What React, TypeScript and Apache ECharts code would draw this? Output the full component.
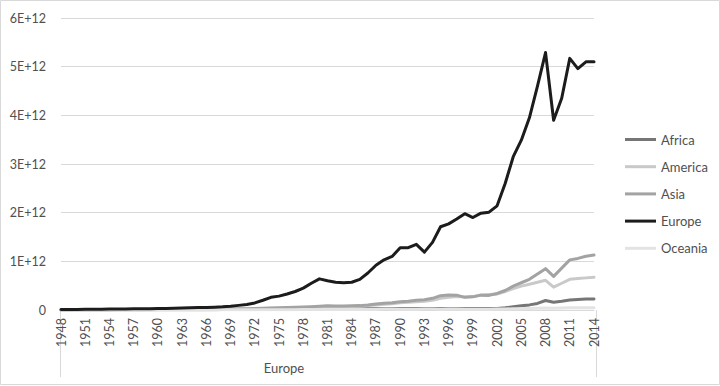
import React, { useEffect, useRef } from "react";
import * as echarts from "echarts";

const years: string[] = [];
for (let y = 1948; y <= 2014; y++) years.push(String(y));

// values in units of 1E+12
const africa = [
  0.001, 0.001, 0.001, 0.002, 0.002, 0.002, 0.002, 0.003, 0.003, 0.003,
  0.003, 0.004, 0.004, 0.004, 0.005, 0.005, 0.006, 0.006, 0.007, 0.007,
  0.008, 0.009, 0.010, 0.011, 0.012, 0.014, 0.017, 0.018, 0.019, 0.021,
  0.023, 0.027, 0.032, 0.031, 0.029, 0.027, 0.026, 0.026, 0.025, 0.026,
  0.027, 0.028, 0.031, 0.030, 0.030, 0.028, 0.027, 0.030, 0.031, 0.031,
  0.029, 0.029, 0.030, 0.030, 0.033, 0.045, 0.065, 0.085, 0.105, 0.135,
  0.195, 0.160, 0.180, 0.205, 0.215, 0.225, 0.228,
];
const america = [
  0.003, 0.003, 0.004, 0.004, 0.004, 0.005, 0.005, 0.006, 0.006, 0.007,
  0.007, 0.008, 0.008, 0.009, 0.010, 0.011, 0.012, 0.013, 0.014, 0.015,
  0.017, 0.019, 0.021, 0.023, 0.026, 0.030, 0.035, 0.038, 0.041, 0.045,
  0.050, 0.057, 0.065, 0.072, 0.070, 0.068, 0.072, 0.078, 0.090, 0.105,
  0.120, 0.130, 0.150, 0.160, 0.170, 0.180, 0.200, 0.240, 0.260, 0.275,
  0.265, 0.275, 0.310, 0.320, 0.330, 0.380, 0.440, 0.490, 0.530, 0.570,
  0.610, 0.470, 0.550, 0.630, 0.645, 0.660, 0.675,
];
const asia = [
  0.002, 0.002, 0.003, 0.003, 0.003, 0.004, 0.004, 0.005, 0.005, 0.006,
  0.006, 0.007, 0.008, 0.009, 0.010, 0.011, 0.012, 0.013, 0.015, 0.017,
  0.019, 0.021, 0.024, 0.027, 0.031, 0.036, 0.042, 0.045, 0.049, 0.054,
  0.060, 0.068, 0.078, 0.085, 0.083, 0.080, 0.085, 0.090, 0.105, 0.125,
  0.140, 0.150, 0.170, 0.180, 0.200, 0.210, 0.240, 0.295, 0.310, 0.305,
  0.260, 0.270, 0.305, 0.300, 0.340, 0.400, 0.490, 0.560, 0.630, 0.740,
  0.850, 0.690, 0.860, 1.030, 1.060, 1.105, 1.130,
];
const europe = [
  0.010, 0.011, 0.012, 0.014, 0.015, 0.016, 0.018, 0.020, 0.022, 0.024,
  0.025, 0.027, 0.030, 0.033, 0.036, 0.040, 0.045, 0.049, 0.053, 0.058,
  0.065, 0.078, 0.095, 0.115, 0.145, 0.200, 0.260, 0.285, 0.330, 0.380,
  0.450, 0.550, 0.640, 0.600, 0.570, 0.560, 0.570, 0.630, 0.760, 0.920,
  1.030, 1.100, 1.280, 1.280, 1.350, 1.190, 1.390, 1.710, 1.770, 1.870,
  1.980, 1.900, 1.990, 2.010, 2.140, 2.600, 3.150, 3.490, 3.950, 4.600,
  5.290, 3.900, 4.350, 5.170, 4.960, 5.100, 5.100,
];
const oceania = [
  0.001, 0.001, 0.001, 0.001, 0.001, 0.001, 0.001, 0.001, 0.001, 0.001,
  0.001, 0.001, 0.002, 0.002, 0.002, 0.002, 0.002, 0.002, 0.003, 0.003,
  0.003, 0.003, 0.004, 0.004, 0.005, 0.005, 0.006, 0.006, 0.007, 0.007,
  0.008, 0.009, 0.010, 0.010, 0.010, 0.009, 0.009, 0.010, 0.011, 0.012,
  0.013, 0.014, 0.015, 0.015, 0.015, 0.014, 0.015, 0.017, 0.018, 0.018,
  0.017, 0.017, 0.017, 0.017, 0.018, 0.021, 0.025, 0.028, 0.030, 0.035,
  0.040, 0.034, 0.040, 0.045, 0.046, 0.046, 0.045,
];

const seriesNames = ["Africa", "America", "Asia", "Europe", "Oceania"];
const seriesData = [africa, america, asia, europe, oceania];
const seriesColors = ["#767676", "#c9c9c9", "#a3a3a3", "#1c1c1c", "#e3e3e3"];
const groupLabel = "Europe";

const FONT = "Lato";
const TEXT = "#505050";

export default function App() {
  const ref = useRef<HTMLDivElement>(null);
  useEffect(() => {
    if (!ref.current) return;
    const chart = echarts.init(ref.current, null, { renderer: "svg" });
    chart.setOption({
      animation: false,
      backgroundColor: "#ffffff",
      textStyle: { fontFamily: FONT },
      grid: { left: 61, right: 126, top: 18, bottom: 76, containLabel: false },
      legend: {
        orient: "vertical",
        left: 620,
        top: 128,
        itemWidth: 31,
        itemHeight: 3,
        itemGap: 14.2,
        icon: "rect",
        textStyle: { color: TEXT, fontSize: 13, fontFamily: FONT },
        data: seriesNames,
      },
      xAxis: {
        type: "category",
        data: years,
        boundaryGap: false,
        axisLine: { show: true, lineStyle: { color: "#d9d9d9", width: 1 } },
        axisTick: { show: false },
        axisLabel: {
          interval: 2,
          rotate: 90,
          color: TEXT,
          fontSize: 12.5,
          fontFamily: FONT,
          margin: 8,
        },
        splitLine: { show: false },
      },
      yAxis: {
        type: "value",
        min: 0,
        max: 6e12,
        interval: 1e12,
        axisLine: { show: false },
        axisTick: { show: false },
        axisLabel: {
          color: TEXT,
          fontSize: 12.5,
          fontFamily: FONT,
          margin: 15,
          formatter: (v: number) => (v === 0 ? "0" : `${v / 1e12}E+12`),
        },
        splitLine: { lineStyle: { color: "#d9d9d9", width: 1 } },
      },
      series: seriesNames.map((name, i) => ({
        name,
        type: "line",
        data: seriesData[i].map((v) => v * 1e12),
        showSymbol: false,
        symbol: "none",
        lineStyle: { color: seriesColors[i], width: 3, join: "round", cap: "round" },
        itemStyle: { color: seriesColors[i] },
        z: i === 3 ? 3 : 2,
      })),
      graphic: [
        {
          type: "rect",
          shape: { x: 0.5, y: 0.5, width: 719, height: 384 },
          style: { fill: "none", stroke: "#d9d9d9", lineWidth: 1 },
          silent: true,
        },
        {
          type: "line",
          shape: { x1: 60.5, y1: 310, x2: 60.5, y2: 377 },
          style: { stroke: "#d9d9d9", lineWidth: 1 },
        },
        {
          type: "line",
          shape: { x1: 596.5, y1: 310, x2: 596.5, y2: 377 },
          style: { stroke: "#d9d9d9", lineWidth: 1 },
        },
        {
          type: "text",
          x: 284,
          y: 368,
          style: {
            text: groupLabel,
            fill: TEXT,
            fontSize: 13,
            fontFamily: FONT,
            textAlign: "center",
            textVerticalAlign: "middle",
          },
        },
      ],
    });
    return () => chart.dispose();
  }, []);
  return (
    <div
      ref={ref}
      style={{ position: "fixed", left: 0, top: 0, width: 720, height: 386 }}
    />
  );
}
